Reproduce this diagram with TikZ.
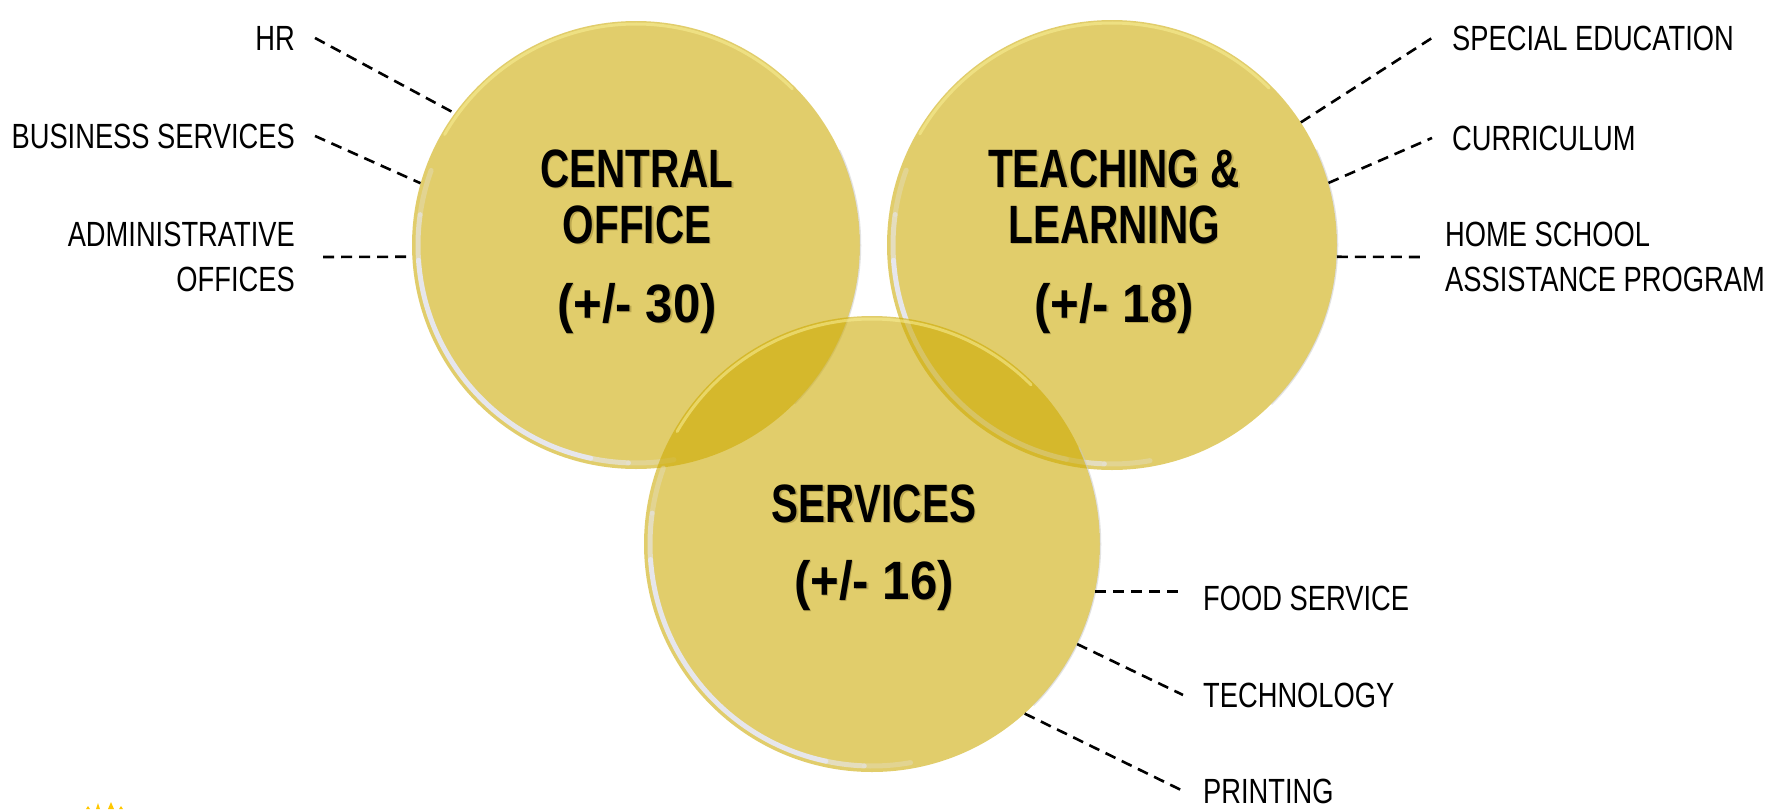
\documentclass[tikz,border=0pt]{standalone}
\usepackage{fontspec}
\setmainfont{Liberation Sans}[FakeStretch=0.78]
\newfontfamily\titlefont{Liberation Sans Bold}[FakeStretch=0.75]
\newfontfamily\countfont{Liberation Sans Bold}[FakeStretch=0.91]
\usetikzlibrary{calc}

\definecolor{discfill}{RGB}{205,170,0}
\definecolor{rimwhite}{RGB}{230,230,236}
\definecolor{rimglow}{RGB}{250,240,150}
\definecolor{rimshade}{RGB}{200,200,200}
\definecolor{titleshade}{RGB}{188,168,80}
\definecolor{sparkyellow}{RGB}{255,200,0}

% bold heading with a soft offset shadow
\newcommand{\shadowed}[1]{\rlap{\kern1.3pt\raisebox{-1.3pt}{\textcolor{titleshade}{#1}}}#1}

% glassy rim of a disc: node name, radius
\newcommand{\discrim}[2]{%
  \begin{scope}[shift={(#1.center)}, x=1pt, y=1pt]
    \pgfmathsetmacro{\rb}{#2-6}
    \pgfmathsetmacro{\rg}{#2-3}
    \pgfmathsetmacro{\rs}{#2+0.5}
    \draw[rimband, draw opacity=0.3] (160:\rb) arc[start angle=160, end angle=172, radius=\rb];
    \draw[rimband, draw opacity=0.65] (172:\rb) arc[start angle=172, end angle=184, radius=\rb];
    \draw[rimband] (184:\rb) arc[start angle=184, end angle=258, radius=\rb];
    \draw[rimband, draw opacity=0.65] (258:\rb) arc[start angle=258, end angle=268, radius=\rb];
    \draw[rimband, draw opacity=0.3] (268:\rb) arc[start angle=268, end angle=280, radius=\rb];
    \draw[rimhi] (45:\rg) arc[start angle=45, end angle=150, radius=\rg];
    \draw[rimedge] (-45:\rs) arc[start angle=-45, end angle=25, radius=\rs];
  \end{scope}}

\tikzset{
  disc/.style={circle, minimum size=#1, inner sep=0pt, fill=discfill, fill opacity=0.58, draw=none},
  rimband/.style={draw=rimwhite, line width=5pt, line cap=round},
  rimhi/.style={draw=rimglow, line width=3pt, draw opacity=0.55, line cap=round},
  rimedge/.style={draw=rimshade, line width=1.5pt, draw opacity=0.5},
  title/.style={anchor=base, inner sep=0pt, font=\titlefont\fontsize{54}{56}\selectfont},
  count/.style={anchor=base, inner sep=0pt, font=\countfont\fontsize{54}{56}\selectfont},
  lbl/.style={inner sep=0pt, font=\fontsize{35}{45}\selectfont},
  leader/.style={draw=black, line width=2.6pt, dash pattern=on 11pt off 7pt},
}

\begin{document}
\begin{tikzpicture}[x=1pt, y=-1pt]
\useasboundingbox (0,0) rectangle (1791,809);
\fill[white] (0,0) rectangle (1791,809);

% the three discs
\node[disc=448pt] (c1) at (636,245) {};
\discrim{c1}{224}
\node[disc=450pt] (c2) at (1112,245) {};
\discrim{c2}{225}
\node[disc=456pt] (c3) at (872,544) {};
\discrim{c3}{228}

% headings
\node[title] (t1a) at (637,187) {\shadowed{CENTRAL}};
\node[title] (t1b) at (637,243) {\shadowed{OFFICE}};
\node[count] (t1c) at (637,322) {\shadowed{(+/- 30)}};
\node[title] (t2a) at (1114,187) {\shadowed{TEACHING \&}};
\node[title] (t2b) at (1114,243) {\shadowed{LEARNING}};
\node[count] (t2c) at (1114,322) {\shadowed{(+/- 18)}};
\node[title] (t3a) at (874,522) {\shadowed{SERVICES}};
\node[count] (t3b) at (874,599) {\shadowed{(+/- 16)}};

% departments
\node[lbl, anchor=base east] (hr) at (295,50) {HR};
\node[lbl, anchor=base east] (bus) at (295,148) {BUSINESS SERVICES};
\node[lbl, anchor=east, align=right] (adm) at (295,257) {ADMINISTRATIVE\\OFFICES};
\node[lbl, anchor=base west] (spe) at (1452,50) {SPECIAL EDUCATION};
\node[lbl, anchor=base west] (cur) at (1452,150) {CURRICULUM};
\node[lbl, anchor=west, align=left] (home) at (1445,257) {HOME SCHOOL\\ASSISTANCE PROGRAM};
\node[lbl, anchor=base west] (food) at (1203,610) {FOOD SERVICE};
\node[lbl, anchor=base west] (tech) at (1203,707) {TECHNOLOGY};
\node[lbl, anchor=base west] (prn) at (1203,803) {PRINTING};

% leaders
\coordinate (foodtip) at ([xshift=-20pt]food.west);
\draw[leader] ([xshift=20pt]hr.east) -- (c1.144);
\draw[leader] ([xshift=20pt]bus.east) -- (c1.164.6);
\draw[leader] ([xshift=28pt]adm.east) -- (c1.183);
\draw[leader] (c2.33.6) -- ([xshift=-20pt]spe.west);
\draw[leader] (c2.16) -- ([xshift=-20pt]cur.west);
\draw[leader] (c2.-3) -- ([xshift=-20pt]home.west);
\draw[leader] (c3.-12.4) -- (foodtip |- c3.-12.4);
\draw[leader] (c3.-26.3) -- ([xshift=-20pt]tech.west);
\draw[leader] (c3.-48.2) -- ([xshift=-20pt]prn.west);

% small yellow sparkle at the lower edge
\fill[sparkyellow] (86,809) -- (88,806) -- (90,809) -- cycle;
\fill[sparkyellow] (96,809) -- (98,803) -- (100,809) -- cycle;
\fill[sparkyellow] (108,809) -- (111,802) -- (114,809) -- cycle;
\fill[sparkyellow] (119,809) -- (121,806) -- (123,809) -- cycle;
\end{tikzpicture}
\end{document}
